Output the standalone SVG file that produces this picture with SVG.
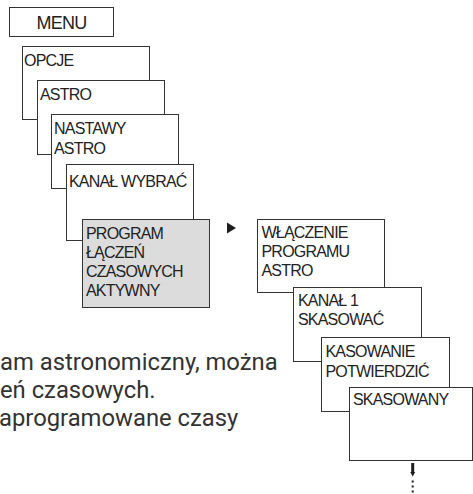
<svg xmlns="http://www.w3.org/2000/svg" width="473" height="494" viewBox="0 0 473 494">
  <style>
    .box { fill: #ffffff; stroke: #333333; stroke-width: 1; }
    .box.active { fill: #dcdcdc; }
    .lbl { font-family: "Liberation Sans", Arial, sans-serif; font-size: 16px; letter-spacing: -0.8px; fill: #222222; }
    .menu { font-size: 18px; }
    .body { font-family: Roboto, "Open Sans", sans-serif; font-size: 23.8px; fill: #333333; }
    .conn { fill: #1e1e1e; }
  </style>
  <rect width="473" height="494" fill="#ffffff"/>

  <!-- top-level menu key -->
  <g id="menu">
    <rect class="box" x="9.5" y="7.5" width="104" height="29"/>
    <text class="lbl menu" x="61.5" y="28.5" text-anchor="middle">MENU</text>
  </g>

  <!-- left cascade of menu screens -->
  <g id="opcje">
    <rect class="box" x="22.5" y="46.5" width="127" height="73"/>
    <text class="lbl" x="24" y="66">OPCJE</text>
  </g>
  <g id="astro">
    <rect class="box" x="37.5" y="80.5" width="127" height="74"/>
    <text class="lbl" x="40" y="100">ASTRO</text>
  </g>
  <g id="nastawy-astro">
    <rect class="box" x="51.5" y="114.5" width="127" height="74"/>
    <text class="lbl" x="54" y="134">NASTAWY</text>
    <text class="lbl" x="54" y="154">ASTRO</text>
  </g>
  <g id="kanal-wybrac">
    <rect class="box" x="66.5" y="164.5" width="127" height="76"/>
    <text class="lbl" x="69" y="186.5">KANAŁ WYBRAĆ</text>
  </g>
  <g id="program-aktywny">
    <rect class="box active" x="82.5" y="219.5" width="127" height="88"/>
    <text class="lbl" x="86" y="238.5">PROGRAM</text>
    <text class="lbl" x="86" y="257.5">ŁĄCZEŃ</text>
    <text class="lbl" x="86" y="276.5">CZASOWYCH</text>
    <text class="lbl" x="86" y="295.5">AKTYWNY</text>
  </g>

  <!-- right cascade of menu screens -->
  <g id="wlaczenie">
    <rect class="box" x="257.5" y="219.5" width="127" height="73"/>
    <text class="lbl" x="261.5" y="238">WŁĄCZENIE</text>
    <text class="lbl" x="261.5" y="257">PROGRAMU</text>
    <text class="lbl" x="261.5" y="276">ASTRO</text>
  </g>
  <g id="kanal-skasowac">
    <rect class="box" x="293.5" y="287.5" width="128" height="74"/>
    <text class="lbl" x="298" y="306">KANAŁ 1</text>
    <text class="lbl" x="298" y="325">SKASOWAĆ</text>
  </g>
  <g id="kasowanie">
    <rect class="box" x="321.5" y="337.5" width="128" height="74"/>
    <text class="lbl" x="325.5" y="357">KASOWANIE</text>
    <text class="lbl" x="325.5" y="376.5">POTWIERDZIĆ</text>
  </g>
  <g id="skasowany">
    <rect class="box" x="349.5" y="387.5" width="123" height="73"/>
    <text class="lbl" x="353" y="405">SKASOWANY</text>
  </g>

  <!-- connectors -->
  <g id="connectors">
    <polygon class="conn" points="227,222.5 236,228 227,233.5"/>
    <polygon class="conn" points="411.2,463 414.2,463 414.2,472 415.2,472 412.7,476.5 410.2,472 411.2,472"/>
    <rect class="conn" x="411.7" y="480.5" width="2" height="2"/>
    <rect class="conn" x="411.7" y="485.5" width="2" height="2"/>
    <rect class="conn" x="411.7" y="490.5" width="2" height="2"/>
  </g>

  <!-- explanatory paragraph -->
  <g id="note">
    <text class="body">
      <tspan x="0" y="370">am astronomiczny, można</tspan>
      <tspan x="0" y="398">eń czasowych.</tspan>
      <tspan x="-1" y="426">aprogramowane czasy</tspan>
    </text>
  </g>
</svg>
